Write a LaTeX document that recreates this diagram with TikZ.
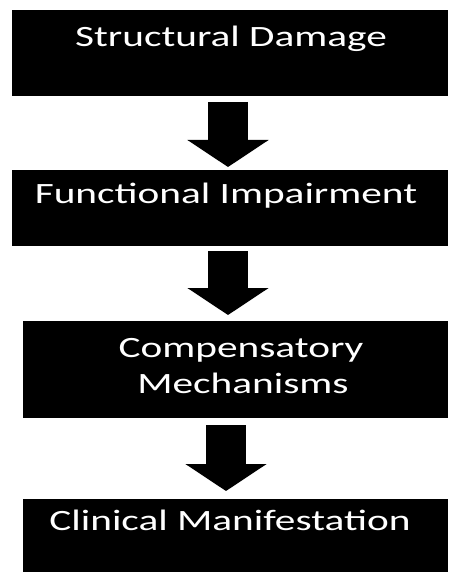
\documentclass[tikz,border=0pt]{standalone}
\usepackage{fontspec}
\newfontfamily\boxfont[FakeStretch=1.40]{Carlito}
\usetikzlibrary{arrows.meta,calc}
\begin{document}
\begin{tikzpicture}[x=1pt,y=-1pt,
  box/.style={fill=black,draw=none,anchor=north west,inner sep=0pt,outer sep=0pt},
  lbl/.style={text=white,anchor=base,inner sep=0pt,font=\boxfont\fontsize{29.5pt}{35pt}\selectfont},
  blk/.style={draw=black,line width=40pt,-{Triangle[width=80pt,length=27pt]}}]
\useasboundingbox (0,0) rectangle (448,572);
\fill[white] (0,0) rectangle (448,572);
% boxes
\node[box,minimum width=436pt,minimum height=86pt] (b1) at (12,10) {};
\node[box,minimum width=436pt,minimum height=76pt] (b2) at (12,170) {};
\node[box,minimum width=425pt,minimum height=97pt] (b3) at (23,321) {};
\node[box,minimum width=425pt,minimum height=73pt] (b4) at (23,499) {};
% labels
\node[lbl] (t1) at (231,47) {Structural Damage};
\node[lbl] (t2) at (226,203) {Functional Impairment};
\node[lbl] (t3a) at (241,357) {Compensatory};
\node[lbl] (t3b) at (243,393) {Mechanisms};
\node[lbl] (t4) at (230,530) {Clinical Manifestation};
% arrow axes
\coordinate (x1) at (228,0);
\coordinate (x3) at (226,0);
\draw[blk] ($(b1.south -| x1)+(0,6)$) -- ($(b2.north -| x1)+(0,-3)$);
\draw[blk] ($(b2.south -| x1)+(0,5)$) -- ($(b3.north -| x1)+(0,-6)$);
\draw[blk] ($(b3.south -| x3)+(0,7)$) -- ($(b4.north -| x3)+(0,-8)$);
\end{tikzpicture}
\end{document}
